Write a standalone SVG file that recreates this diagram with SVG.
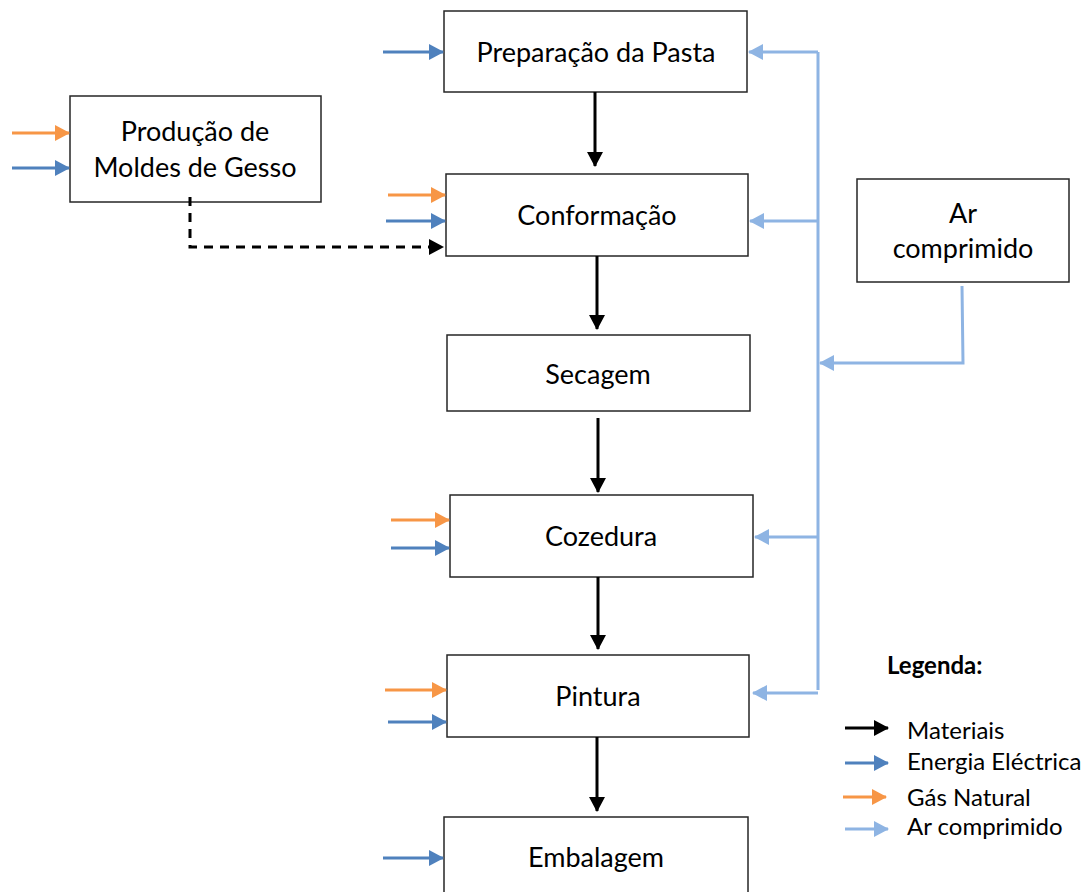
<svg xmlns="http://www.w3.org/2000/svg" width="1088" height="892" viewBox="0 0 1088 892">
<style>
.box{fill:#fff;stroke:#262626;stroke-width:1.5}
.t{font-family:Lato,"Liberation Sans",sans-serif;font-size:27px;fill:#000;text-anchor:middle}
.lg{font-family:Lato,"Liberation Sans",sans-serif;font-size:24px;fill:#000}
.blk{stroke:#000;stroke-width:3;fill:none}
.ele{stroke:#4F81BD;stroke-width:3;fill:none}
.gas{stroke:#F79646;stroke-width:3;fill:none}
.air{stroke:#8EB4E3;stroke-width:3;fill:none}
</style>
<defs>
<marker id="mBlk" markerUnits="userSpaceOnUse" markerWidth="16" markerHeight="16" refX="14" refY="8" orient="auto"><path d="M0,0 L15,8 L0,16 Z" fill="#000"/></marker>
<marker id="mEle" markerUnits="userSpaceOnUse" markerWidth="16" markerHeight="16" refX="14" refY="8" orient="auto"><path d="M0,0 L15,8 L0,16 Z" fill="#4F81BD"/></marker>
<marker id="mGas" markerUnits="userSpaceOnUse" markerWidth="16" markerHeight="16" refX="14" refY="8" orient="auto"><path d="M0,0 L15,8 L0,16 Z" fill="#F79646"/></marker>
<marker id="mAir" markerUnits="userSpaceOnUse" markerWidth="16" markerHeight="16" refX="14" refY="8" orient="auto"><path d="M0,0 L15,8 L0,16 Z" fill="#8EB4E3"/></marker>
</defs>

<g id="preparacao"><rect class="box" x="444" y="11" width="303" height="81"/><text class="t" x="596" y="62">Preparação da Pasta</text></g>
<g id="producao"><rect class="box" x="70" y="96" width="251" height="106"/><text class="t" x="195" y="141">Produção de</text><text class="t" x="195" y="177">Moldes de Gesso</text></g>
<g id="conformacao"><rect class="box" x="446" y="174" width="302" height="82"/><text class="t" x="597" y="225">Conformação</text></g>
<g id="ar"><rect class="box" x="857" y="179" width="212" height="103"/><text class="t" x="963" y="223">Ar</text><text class="t" x="963" y="258">comprimido</text></g>
<g id="secagem"><rect class="box" x="447" y="335" width="303" height="76"/><text class="t" x="598" y="384">Secagem</text></g>
<g id="cozedura"><rect class="box" x="450" y="495" width="303" height="82"/><text class="t" x="601" y="546">Cozedura</text></g>
<g id="pintura"><rect class="box" x="447" y="655" width="302" height="82"/><text class="t" x="598" y="706">Pintura</text></g>
<g id="embalagem"><rect class="box" x="444" y="817" width="304" height="90"/><text class="t" x="596" y="867">Embalagem</text></g>

<g id="connectors">
<line class="blk" x1="595" y1="92" x2="595" y2="166" marker-end="url(#mBlk)"/>
<line class="blk" x1="597" y1="256" x2="597" y2="329" marker-end="url(#mBlk)"/>
<line class="blk" x1="598" y1="418" x2="598" y2="492" marker-end="url(#mBlk)"/>
<line class="blk" x1="598" y1="577" x2="598" y2="649" marker-end="url(#mBlk)"/>
<line class="blk" x1="597" y1="737" x2="597" y2="811" marker-end="url(#mBlk)"/>
<path class="blk" d="M190,197 V247 H443" stroke-dasharray="9,7" marker-end="url(#mBlk)"/>

<line class="ele" x1="383" y1="52" x2="443" y2="52" marker-end="url(#mEle)"/>
<line class="gas" x1="12" y1="133" x2="69" y2="133" marker-end="url(#mGas)"/>
<line class="ele" x1="12" y1="168" x2="69" y2="168" marker-end="url(#mEle)"/>
<line class="gas" x1="388" y1="195" x2="445" y2="195" marker-end="url(#mGas)"/>
<line class="ele" x1="386" y1="221" x2="445" y2="221" marker-end="url(#mEle)"/>
<line class="gas" x1="391" y1="520" x2="449" y2="520" marker-end="url(#mGas)"/>
<line class="ele" x1="391" y1="548" x2="449" y2="548" marker-end="url(#mEle)"/>
<line class="gas" x1="385" y1="690" x2="446" y2="690" marker-end="url(#mGas)"/>
<line class="ele" x1="388" y1="722" x2="446" y2="722" marker-end="url(#mEle)"/>
<line class="ele" x1="383" y1="858" x2="443" y2="858" marker-end="url(#mEle)"/>

<line class="air" x1="818" y1="52" x2="818" y2="690"/>
<line class="air" x1="818" y1="52" x2="749" y2="52" marker-end="url(#mAir)"/>
<line class="air" x1="818" y1="221" x2="750" y2="221" marker-end="url(#mAir)"/>
<line class="air" x1="818" y1="537" x2="755" y2="537" marker-end="url(#mAir)"/>
<line class="air" x1="818" y1="693" x2="753" y2="693" marker-end="url(#mAir)"/>
<path class="air" d="M962,286 L963,363 H820" marker-end="url(#mAir)"/>
</g>

<g id="legend">
<text x="887" y="674" font-family="Lato,'Liberation Sans',sans-serif" font-size="24" font-weight="bold">Legenda:</text>
<line class="blk" x1="845" y1="728" x2="888" y2="728" marker-end="url(#mBlk)"/>
<line class="ele" x1="845" y1="763" x2="888" y2="763" marker-end="url(#mEle)"/>
<line class="gas" x1="843" y1="797" x2="886" y2="797" marker-end="url(#mGas)"/>
<line class="air" x1="845" y1="829" x2="888" y2="829" marker-end="url(#mAir)"/>
<text class="lg" x="907" y="739">Materiais</text>
<text class="lg" x="907" y="770">Energia Eléctrica</text>
<text class="lg" x="907" y="806">Gás Natural</text>
<text class="lg" x="907" y="835">Ar comprimido</text>
</g>
</svg>
